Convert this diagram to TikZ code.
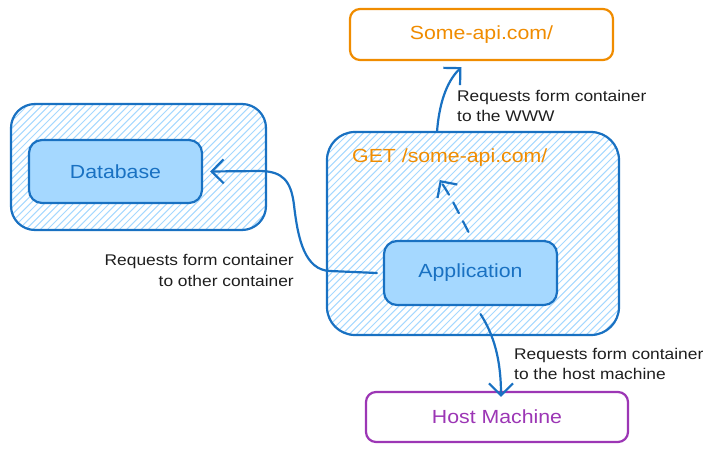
\documentclass[tikz,border=0pt]{standalone}
\usepackage{fontspec}
\setmainfont{Liberation Sans}[FakeStretch=1.12]
\usetikzlibrary{arrows.meta}
\definecolor{eblue}{HTML}{1971C2}
\definecolor{elight}{HTML}{A5D8FF}
\definecolor{eorange}{HTML}{F08C00}
\definecolor{epurple}{HTML}{9C36B5}
\definecolor{eink}{HTML}{1E1E1E}
\begin{document}
\begin{tikzpicture}[x=1pt,y=-1pt,
  hatched/.style={draw=eblue, line width=2.2pt, rounded corners=#1, inner sep=0pt,
    path picture={
      \foreach \k in {-60,...,60}{
        \draw[elight, line width=1pt] ([xshift=\k*7.2pt]path picture bounding box.south west) -- ++(300,-300);}
    }},
  inner/.style={draw=eblue, fill=elight, line width=2.2pt, rounded corners=13pt, inner sep=0pt,
    minimum width=173pt, minimum height=63pt, text=eblue, font=\fontsize{19}{22}\selectfont},
  outbox/.style={draw=#1, line width=2.2pt, rounded corners=10pt, inner sep=0pt, fill=white,
    text=#1, font=\fontsize{19}{22}\selectfont},
  lbl/.style={text=eink, inner sep=0pt, font=\fontsize{15.5}{20.5}\selectfont},
  conn/.style={draw=eblue, line width=2.2pt, line cap=round, line join=round,
    -{Straight Barb[length=12pt,width=24pt,line width=2.2pt]}},
]
\useasboundingbox (0,0) rectangle (716,452);

% containers
\node[hatched=24pt, minimum width=255pt, minimum height=126pt] (lc) at (138.5,167) {};
\node[hatched=28pt, minimum width=292pt, minimum height=203pt] (rc) at (473,233.5) {};

% inner boxes
\node[inner] (db) at (115.5,171.5) {Database};
\node[inner, minimum height=64pt] (app) at (470.5,273) {Application};

% outer boxes
\node[outbox=eorange, minimum width=263pt, minimum height=51pt] (api) at (481.5,34.5) {Some-api.com/};
\node[outbox=epurple, minimum width=262pt, minimum height=50pt] (host) at (497,417) {Host Machine};

% texts
\node[text=eorange, inner sep=0pt, anchor=west, font=\fontsize{19}{22}\selectfont] (get) at (352,158) {GET /some-api.com/};
\node[lbl, anchor=west, align=left] (lwww) at (457,106) {Requests form container\\to the WWW};
\node[lbl, anchor=east, align=right] (lother) at (294,270.5) {Requests form container\\to other container};
\node[lbl, anchor=west, align=left] (lhost) at (514,364) {Requests form container\\to the host machine};

% connectors
\coordinate (wwwstart) at ([xshift=-36pt,yshift=-1pt]rc.north);
\coordinate (wwwend) at ([xshift=-20pt,yshift=-6pt]api.south);
\draw[conn] (wwwstart) .. controls (439,105) and (446,82) .. (wwwend);

\coordinate (dstart) at ([xshift=-2pt,yshift=8pt]app.north);
\coordinate (dend) at ([xshift=-10pt,yshift=-13pt]get.south);
\draw[conn, dash pattern=on 12pt off 9pt] (dstart) .. controls (462,220) and (452,198) .. (dend);

\coordinate (ostart) at ([xshift=-6pt]app.west);
\coordinate (oend) at ([xshift=7pt]db.east);
\draw[conn] (ostart) -- (330,271) .. controls (305,270) and (298,240) .. (294,205)
  .. controls (291,180) and (282,172) .. (262,171) -- (oend);

\coordinate (hstart) at ([xshift=10pt,yshift=-8pt]app.south);
\coordinate (hend) at ([xshift=4pt,yshift=-6pt]host.north);
\draw[conn] (hstart) .. controls (494,335) and (501,360) .. (hend);
\end{tikzpicture}
\end{document}
